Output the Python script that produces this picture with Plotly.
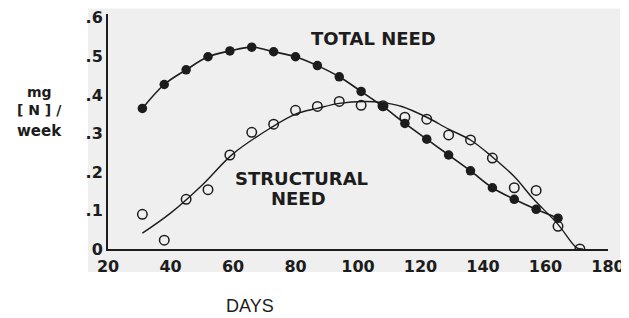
import plotly.graph_objects as go

# ---- data ----
days = [31, 38, 45, 52, 59, 66, 73, 80, 87, 94, 101, 108, 115, 122, 129, 136, 143, 150, 157, 164]
total_need = [0.365, 0.427, 0.465, 0.499, 0.514, 0.524, 0.512, 0.499, 0.476, 0.447,
              0.409, 0.370, 0.326, 0.285, 0.244, 0.203, 0.159, 0.129, 0.103, 0.080]

struct_days = [31, 38, 45, 52, 59, 66, 73, 80, 87, 94, 101, 108, 115, 122, 129, 136, 143, 150, 157, 164, 171]
struct_need = [0.090, 0.023, 0.129, 0.154, 0.244, 0.303, 0.324, 0.360, 0.370, 0.383,
               0.373, 0.372, 0.342, 0.337, 0.296, 0.283, 0.236, 0.159, 0.152, 0.059, 0.0]

fit_days = [31, 40, 50, 60, 72, 80, 87, 94, 102, 108, 114, 122, 129, 136, 143, 150, 156, 164, 170, 172]
fit_vals = [0.041, 0.093, 0.165, 0.247, 0.314, 0.350, 0.365, 0.378, 0.383, 0.380,
            0.370, 0.342, 0.311, 0.283, 0.239, 0.188, 0.131, 0.064, 0.003, 0.0]

x_ticks = [20, 40, 60, 80, 100, 120, 140, 160, 180]
y_ticks = [0, 0.1, 0.2, 0.3, 0.4, 0.5, 0.6]
y_ticktext = ["0", ".1", ".2", ".3", ".4", ".5", ".6"]

INK = "#1c1c1c"
FONT = "Liberation Sans, Arial, sans-serif"
BOLD = "DejaVu Sans, sans-serif"

fig = go.Figure()

fig.add_trace(go.Scatter(x=fit_days, y=fit_vals, mode="lines",
                         line=dict(color=INK, width=1.4, shape="spline"),
                         hoverinfo="skip", showlegend=False))
fig.add_trace(go.Scatter(x=struct_days, y=struct_need, mode="markers",
                         marker=dict(symbol="circle-open", size=9.5, color=INK,
                                     line=dict(width=1.5, color=INK)),
                         name="Structural need", showlegend=False))
fig.add_trace(go.Scatter(x=days, y=total_need, mode="lines+markers",
                         line=dict(color=INK, width=1.6, shape="spline"),
                         marker=dict(symbol="circle", size=9.5, color=INK),
                         name="Total need", showlegend=False))

# The page body adds an 8px offset; work in screen coordinates and subtract it.
OFF = 8
W, H = 629 - OFF, 318 - OFF
L, R, T, B = 108 - OFF, 629 - 608, 13.5 - OFF, 318 - 249

def fx(x):
    return (x - OFF - L) / (W - L - R)

def fy(y):
    return (H - B - (y - OFF)) / (H - T - B)

tickfont = dict(size=16, family=BOLD, color=INK, weight="bold")

fig.update_layout(
    width=W, height=H,
    margin=dict(l=L, r=R, t=T, b=B, pad=0, autoexpand=False),
    paper_bgcolor="white", plot_bgcolor="rgba(0,0,0,0)",
    font=dict(family=FONT, color=INK),
    xaxis=dict(range=[20, 180], tickvals=x_ticks, showgrid=False, zeroline=False,
               showline=True, linecolor=INK, linewidth=2, ticks="", automargin=False,
               ticklabelstandoff=2, ticklabeloverflow="allow",
               tickfont=tickfont, fixedrange=True),
    yaxis=dict(range=[0, 0.61], tickvals=y_ticks, ticktext=y_ticktext, showgrid=False,
               zeroline=False, showline=True, linecolor=INK, linewidth=2, ticks="",
               automargin=False, ticklabelstandoff=0, ticklabeloverflow="allow",
               tickfont=tickfont, fixedrange=True),
    shapes=[dict(type="rect", xref="paper", yref="paper", layer="below",
                 x0=fx(88), x1=fx(620), y0=fy(272), y1=fy(8),
                 fillcolor="#efefef", line=dict(width=0))],
)

def ann(text, x, y, size, family=FONT, weight="normal"):
    fig.add_annotation(text=text, xref="paper", yref="paper", x=fx(x), y=fy(y),
                       showarrow=False, borderpad=0,
                       font=dict(size=size, family=family, color=INK, weight=weight),
                       xanchor="center", yanchor="middle")

ann("TOTAL NEED", 373, 38, 18, BOLD, "bold")
ann("STRUCTURAL", 301, 178, 18, BOLD, "bold")
ann("NEED", 298, 198, 18, BOLD, "bold")
ann("DAYS", 250, 306, 18)
ann("mg", 39, 92, 14, BOLD, "bold")
ann("[ N ] /", 39, 110, 14, BOLD, "bold")
ann("week", 39, 131, 15, BOLD, "bold")

fig.write_html("out.html")
